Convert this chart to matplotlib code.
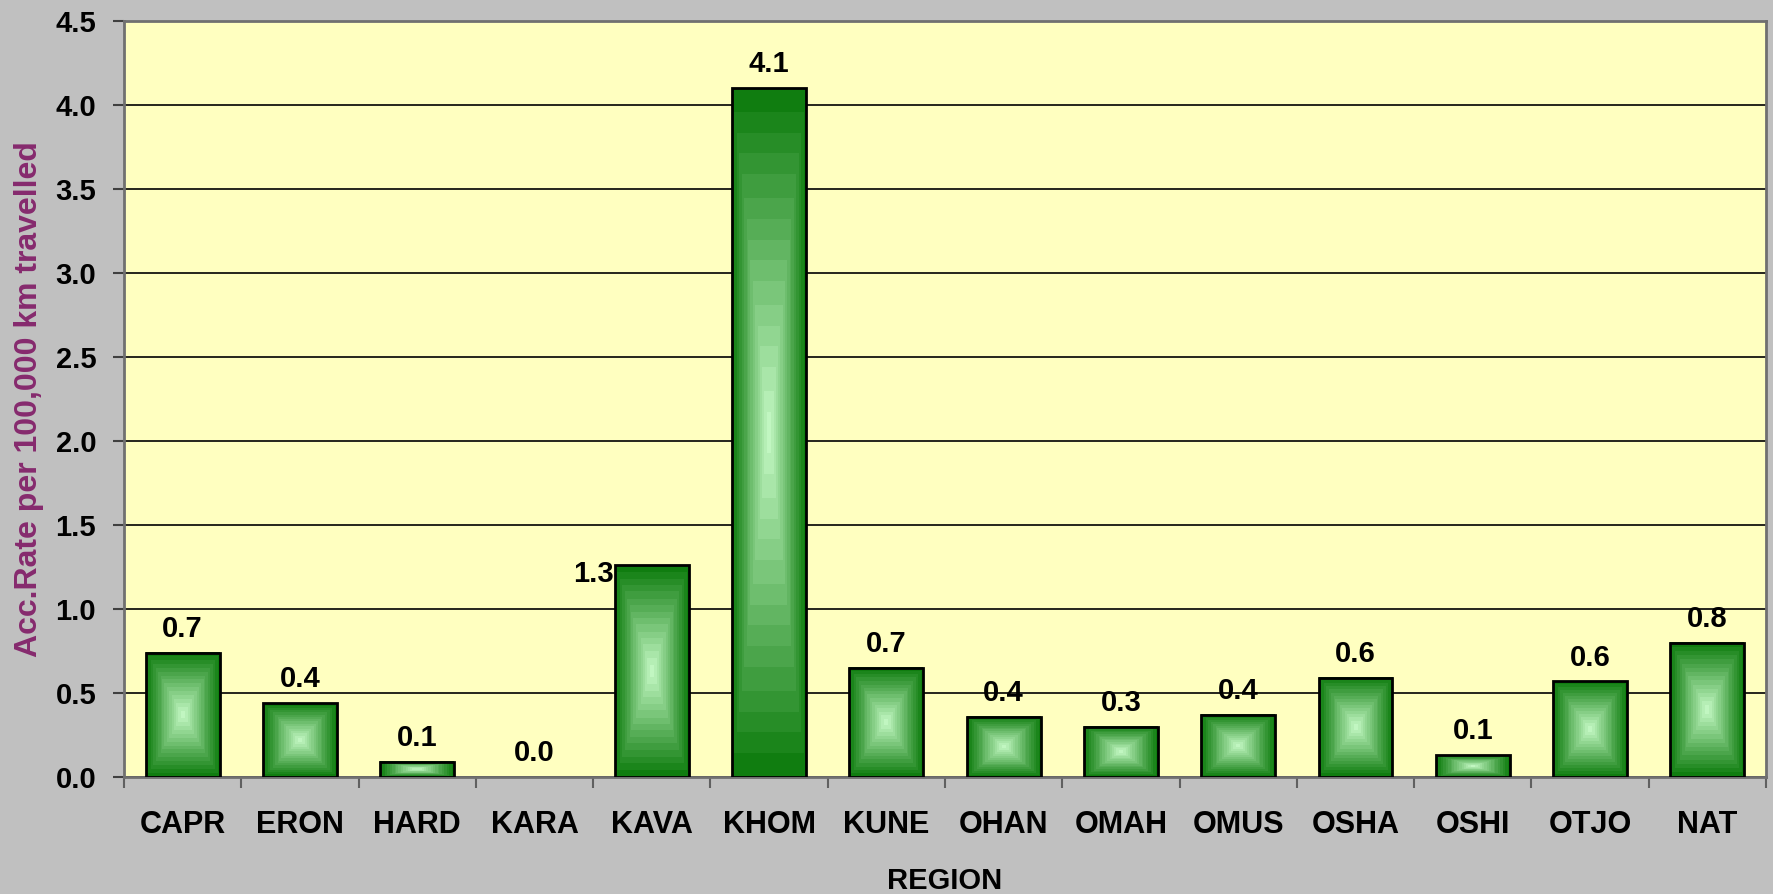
import matplotlib
matplotlib.use('Agg')
import matplotlib.pyplot as plt
import numpy as np

# data
regions = ['CAPR', 'ERON', 'HARD', 'KARA', 'KAVA', 'KHOM', 'KUNE',
           'OHAN', 'OMAH', 'OMUS', 'OSHA', 'OSHI', 'OTJO', 'NAT']
acc_rate = [0.74, 0.44, 0.09, 0.0, 1.26, 4.10, 0.65,
            0.36, 0.30, 0.37, 0.59, 0.13, 0.57, 0.80]

plt.rcParams['font.family'] = ['Liberation Sans', 'DejaVu Sans']
plt.rcParams['font.weight'] = 'bold'

fig = plt.figure(figsize=(17.73, 8.94), dpi=100, facecolor='#C0C0C0')
ax = fig.add_axes([124 / 1773, 1 - 777 / 894, (1766 - 124) / 1773, (777 - 21) / 894])
ax.set_facecolor('#FFFFC0')

x = np.arange(len(regions))
bars = ax.bar(x, acc_rate, width=0.63, facecolor='none', edgecolor='black',
              linewidth=2, zorder=4)

# rectangular "from centre" gradient fill, like the old Excel bars
dark = np.array([16, 125, 16]) / 255
light = np.array([205, 255, 205]) / 255
for b in bars:
    h = b.get_height()
    if h <= 0:
        b.set_linewidth(0)
        continue
    u = np.linspace(-1, 1, 60)
    v = np.linspace(-1, 1, 200)
    U, V = np.meshgrid(u, v)
    d = np.maximum(np.abs(U), np.abs(V))
    t = np.floor((1 - d) * 16) / 16
    img = dark + (light - dark) * t[..., None]
    ax.imshow(img, extent=[b.get_x(), b.get_x() + b.get_width(), 0, h],
              aspect='auto', zorder=3, interpolation='nearest')

# value labels (KAVA's sits to the left of its bar, as in the original)
for i, v in enumerate(acc_rate):
    if regions[i] == 'KAVA':
        ax.annotate(f'{v:.1f}', (x[i], v), xytext=(-42, -6), textcoords='offset points',
                    ha='center', va='center', fontsize=21, fontweight='bold', zorder=5)
    else:
        ax.annotate(f'{v:.1f}', (x[i], v), xytext=(0, 7), textcoords='offset points',
                    ha='center', va='bottom', fontsize=21, fontweight='bold', zorder=5)

ax.set_xlim(-0.5, len(regions) - 0.5)
ax.set_ylim(0, 4.5)
ax.set_yticks(np.arange(0, 4.51, 0.5))
ax.set_yticklabels([f'{t:.1f}' for t in np.arange(0, 4.51, 0.5)])
ax.yaxis.grid(True, color='black', linewidth=1.2, zorder=0)
ax.set_axisbelow(True)

ax.set_xticks(x)
ax.set_xticklabels(regions)
ax.set_xticks(np.arange(-0.5, len(regions), 1), minor=True)
ax.tick_params(axis='x', which='major', length=0, pad=24, labelsize=22)
ax.tick_params(axis='x', which='minor', length=8, width=1.5, color='#606060')
ax.tick_params(axis='y', length=8, width=1.5, color='#404040', pad=12, labelsize=21)

for s in ax.spines.values():
    s.set_color('#707070')
    s.set_linewidth(2)

ax.set_xlabel('REGION', fontsize=21, fontweight='bold', labelpad=19)
ax.set_ylabel('Acc.Rate per 100,000 km travelled', fontsize=23, fontweight='bold',
              color='#862A6E', labelpad=8)

fig.savefig('out.png', dpi=100, facecolor=fig.get_facecolor())
